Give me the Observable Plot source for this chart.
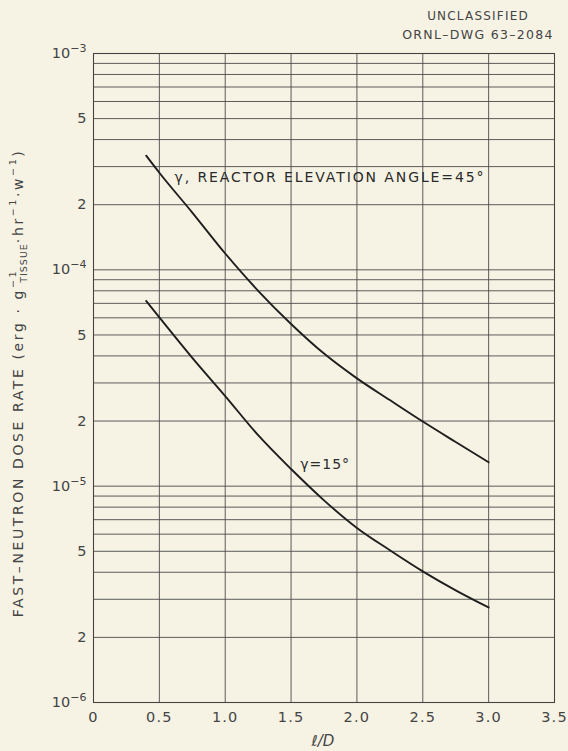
<!DOCTYPE html>
<html>
<head>
<meta charset="utf-8">
<script src="https://cdn.jsdelivr.net/npm/d3@7"></script>
<script src="https://cdn.jsdelivr.net/npm/@observablehq/plot@0.6"></script>
<style>
  html, body { margin: 0; padding: 0; background: #f7f3e4; }
  #chart { width: 568px; height: 751px; position: relative; }
  svg { display: block; }
</style>
</head>
<body>
<div id="chart"></div>
<script>
// ---- data ----
const xValues = [0.4, 0.5, 0.75, 1.0, 1.25, 1.5, 1.75, 2.0, 2.25, 2.5, 2.75, 3.0];
const angle45 = [3.37e-4, 2.81e-4, 1.84e-4, 1.19e-4, 8.0e-5, 5.62e-5, 4.1e-5, 3.15e-5, 2.5e-5, 1.99e-5, 1.6e-5, 1.29e-5];
const angle15 = [7.18e-5, 6.03e-5, 3.92e-5, 2.61e-5, 1.72e-5, 1.2e-5, 8.6e-6, 6.41e-6, 5.06e-6, 4.04e-6, 3.3e-6, 2.75e-6];

const xTicks = [0, 0.5, 1.0, 1.5, 2.0, 2.5, 3.0, 3.5];
const xTickLabels = ["0", "0.5", "1.0", "1.5", "2.0", "2.5", "3.0", "3.5"];
const yTicks = [1e-3, 5e-4, 2e-4, 1e-4, 5e-5, 2e-5, 1e-5, 5e-6, 2e-6, 1e-6];
const yTickLabels = ["10^-3", "5", "2", "10^-4", "5", "2", "10^-5", "5", "2", "10^-6"];
const gridMantissas = [1, 2, 3, 4, 5, 6, 7, 8, 9];
const gridDecades = [1e-6, 1e-5, 1e-4];

const label45 = "γ, REACTOR ELEVATION ANGLE=45°";
const label15 = "γ=15°";
const headerLines = ["UNCLASSIFIED", "ORNL–DWG 63–2084"];
const xLabel = "ℓ/D";

// ---- build tables ----
const gridY = [1e-3];
for (const dec of gridDecades) for (const m of gridMantissas) gridY.push(m * dec);
const data45 = xValues.map((x, i) => ({x, y: angle45[i]}));
const data15 = xValues.map((x, i) => ({x, y: angle15[i]}));

const font = "'DejaVu Sans', 'Liberation Sans', sans-serif";
const ink = "#333";

const chart = Plot.plot({
  width: 568,
  height: 751,
  marginTop: 53,
  marginBottom: 49,
  marginLeft: 93,
  marginRight: 14,
  style: {background: "transparent", fontFamily: font, color: ink, overflow: "visible"},
  x: {domain: [0, 3.5]},
  y: {type: "log", domain: [1e-6, 1e-3]},
  marks: [
    Plot.ruleY(gridY, {stroke: "#4a4a4a", strokeWidth: 0.9}),
    Plot.ruleX(xTicks, {stroke: "#4a4a4a", strokeWidth: 0.9}),
    Plot.frame({stroke: "#444", strokeWidth: 1.1}),
    Plot.axisX(xTicks, {
      tickFormat: (d) => xTickLabels[xTicks.indexOf(d)],
      tickSize: 0, tickPadding: 9, fontSize: 14.5, label: null,
      fill: "#444"
    }),
    Plot.axisY(yTicks, {
      tickFormat: d => yTickLabels[yTicks.indexOf(d)],
      tickSize: 0, tickPadding: 7, fontSize: 14.5, label: null,
      fill: "#444"
    }),
    Plot.line(data45, {x: "x", y: "y", curve: "monotone-x", stroke: "#1e1e1e", strokeWidth: 1.9}),
    Plot.line(data15, {x: "x", y: "y", curve: "monotone-x", stroke: "#1e1e1e", strokeWidth: 1.9}),
    Plot.text([label45], {x: 0.615, y: 2.67e-4, text: d => d, textAnchor: "start", fontSize: 14, fill: "#2a2a2a"}),
    Plot.text([label15], {x: 1.57, y: 1.26e-5, text: d => d, textAnchor: "start", fontSize: 14, fill: "#2a2a2a"})
  ]
});

const svg = d3.select(chart);
// letter spacing to mimic the wide drafting lettering
svg.selectAll("text").filter(function() { return this.textContent === label45; }).style("letter-spacing", "1.9px");
svg.selectAll("text").filter(function() { return this.textContent === label15; }).style("letter-spacing", "1px");
svg.selectAll("[aria-label='x-axis tick label'] text").style("letter-spacing", "1.2px");

// y tick labels: render powers of ten with a real superscript
svg.selectAll("[aria-label='y-axis tick label'] text").each(function() {
  const t = this.textContent;
  if (t.includes("^")) {
    const [base, exp] = t.split("^");
    const sel = d3.select(this);
    sel.selectAll("*").remove();
    sel.text(null);
    sel.append("tspan").text(base);
    sel.append("tspan").attr("dy", "-0.55em").attr("font-size", 11).text(exp.replace("-", "−"));
  }
});

// header (top right)
svg.append("text").attr("x", 478).attr("y", 20).attr("text-anchor", "middle")
  .attr("font-family", font).attr("font-size", 12).attr("fill", "#444")
  .style("letter-spacing", "1.2px").text(headerLines[0]);
svg.append("text").attr("x", 478).attr("y", 39).attr("text-anchor", "middle")
  .attr("font-family", font).attr("font-size", 12.5).attr("fill", "#444")
  .style("letter-spacing", "1.3px").text(headerLines[1]);

// x axis label
svg.append("text").attr("x", 323).attr("y", 746).attr("text-anchor", "middle")
  .attr("font-family", font).attr("font-size", 15).attr("font-style", "italic")
  .attr("fill", "#444").text(xLabel);

// y axis label with super/subscripts
const yl = svg.append("text")
  .attr("transform", "translate(23,383) rotate(-90)")
  .attr("text-anchor", "middle")
  .attr("font-family", font).attr("font-size", 14).attr("fill", "#444")
  .style("letter-spacing", "2.6px");
yl.append("tspan").text("FAST–NEUTRON DOSE RATE (erg · g");
yl.append("tspan").attr("dy", -7).attr("font-size", 9.5).text("−1");
yl.append("tspan").attr("dx", -14).attr("dy", 11).attr("font-size", 9.5).style("letter-spacing", "1px").text("TISSUE");
yl.append("tspan").attr("dy", -4).text("·hr");
yl.append("tspan").attr("dy", -7).attr("font-size", 9.5).text("−1");
yl.append("tspan").attr("dy", 7).text("·w");
yl.append("tspan").attr("dy", -7).attr("font-size", 9.5).text("−1");
yl.append("tspan").attr("dy", 7).text(")");

document.getElementById("chart").appendChild(chart);
</script>
</body>
</html>
